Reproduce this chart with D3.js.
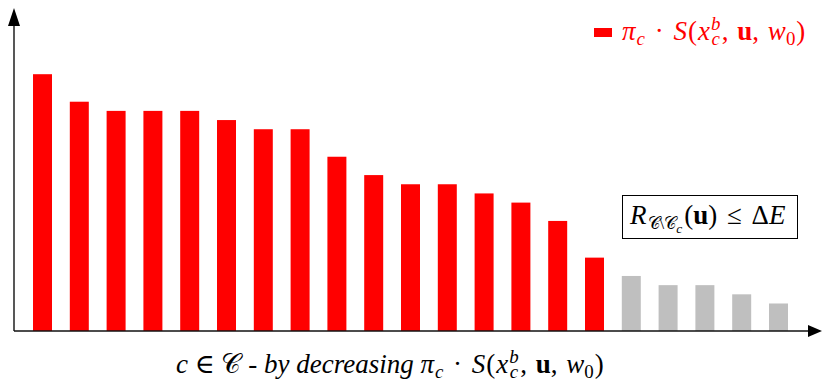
<!DOCTYPE html>
<html>
<head>
<meta charset="utf-8">
<script src="https://cdn.jsdelivr.net/npm/d3@7"></script>
<style>
  body { margin: 0; background: #fff; }
  text { font-family: "Liberation Serif", "DejaVu Serif", serif; }
</style>
</head>
<body>
<div id="chart"></div>
<script>
// Ranked contributions, sorted decreasing
const categories = ['c1', 'c2', 'c3', 'c4', 'c5', 'c6', 'c7', 'c8', 'c9', 'c10', 'c11',
    'c12', 'c13', 'c14', 'c15', 'c16', 'c17', 'c18', 'c19', 'c20', 'c21'];
const values = [28, 25, 24, 24, 24, 23, 22, 22, 19, 17, 16, 16, 15, 14, 12, 8, 6, 5, 5, 4, 3];
const kept = [1, 1, 1, 1, 1, 1, 1, 1, 1, 1, 1, 1, 1, 1, 1, 1, 0, 0, 0, 0, 0];

const W = 822, H = 384;
const x0 = 14, y0 = 331;

const svg = d3.select('#chart').append('svg')
    .attr('width', W)
    .attr('height', H);

const x = d3.scaleBand()
    .domain(categories)
    .range([15.2, 805.8])
    .padding(0.484);

const y = d3.scaleLinear()
    .domain([0, 35])
    .range([y0, 10]);

// Bars
svg.selectAll('.bar')
    .data(values)
    .enter()
    .append('rect')
    .attr('class', 'bar')
    .attr('x', (d, i) => x(categories[i]))
    .attr('y', d => y(d))
    .attr('width', x.bandwidth())
    .attr('height', d => y0 - y(d))
    .attr('fill', (d, i) => kept[i] ? '#ff0000' : '#bfbfbf');

// Axes with arrow heads
svg.append('line')
    .attr('x1', x0).attr('y1', y0)
    .attr('x2', x0).attr('y2', 24)
    .attr('stroke', '#111').attr('stroke-width', 1.4);
svg.append('path')
    .attr('d', `M${x0},8 L${x0 - 6},26 L${x0 + 6},26 Z`)
    .attr('fill', '#000');

svg.append('line')
    .attr('x1', x0).attr('y1', y0)
    .attr('x2', 810).attr('y2', y0)
    .attr('stroke', '#111').attr('stroke-width', 1.4);
svg.append('path')
    .attr('d', `M822,${y0} L808,${y0 - 6} L808,${y0 + 6} Z`)
    .attr('fill', '#000');

// Small math-like text builder: pieces of [text, style, shift, dx, scale]
function mathText(g, px, py, size, color, pieces) {
    const t = g.append('text')
        .attr('x', px)
        .attr('y', py)
        .attr('fill', color)
        .attr('font-size', size + 'px');
    let cur = 0;
    pieces.forEach(p => {
        const [str, style, shift, dx, sc] = p;
        let target = 0;
        let fs = size;
        if (shift === 'sub') { target = size * 0.2; fs = size * 0.7; }
        if (shift === 'sub2') { target = size * 0.32; fs = size * 0.5; }
        if (shift === 'sup') { target = -size * 0.38; fs = size * 0.7; }
        if (sc) fs = size * sc;
        const ts = t.append('tspan')
            .attr('dy', target - cur)
            .attr('font-size', fs + 'px')
            .text(str);
        if (dx) ts.attr('dx', dx);
        if (style === 'i') ts.attr('font-style', 'italic');
        if (style === 'b') ts.attr('font-weight', 'bold');
        cur = target;
    });
    return t;
}

const mainExpr = (s) => [
    ['\u03C0', 'i'], ['c', 'i', 'sub', 1], [' \u00B7 ', 'r', null, 3], ['S', 'i', null, 3], ['(', 'r', null, 1],
    ['x', 'i', null, 1], ['b', 'i', 'sup', 1], ['c', 'i', 'sub', -s * 0.33], [', ', 'r', null, 2],
    ['u', 'b', null, 2], [', ', 'r'], ['w', 'i', null, 2], ['0', 'r', 'sub'], [')', 'r', null, 1]
];

// Legend
svg.append('rect')
    .attr('x', 594).attr('y', 28)
    .attr('width', 18).attr('height', 9)
    .attr('fill', '#ff0000');
mathText(svg, 622, 40, 27, '#ff0000', mainExpr(27));

// Threshold box
svg.append('rect')
    .attr('x', 622.5).attr('y', 195.5)
    .attr('width', 175).attr('height', 43)
    .attr('fill', '#fff')
    .attr('stroke', '#000')
    .attr('stroke-width', 1);
mathText(svg, 630, 224, 27, '#000', [
    ['R', 'i'], ['\uD835\uDC9E\\\uD835\uDC9E', 'r', 'sub', 1, 0.62], ['c', 'i', 'sub2'], ['(', 'r', null, 2],
    ['u', 'b'], [')', 'r'], [' \u2264 ', 'r', null, 3], ['\u0394', 'r', null, 3], ['E', 'i']
]);

// X label
mathText(svg, 176, 373, 27, '#000', [
    ['c', 'i'], [' \u2208 \uD835\uDC9E - ', 'r'], ['by decreasing', 'i'], [' ', 'r']
].concat(mainExpr(27)));
</script>
</body>
</html>
